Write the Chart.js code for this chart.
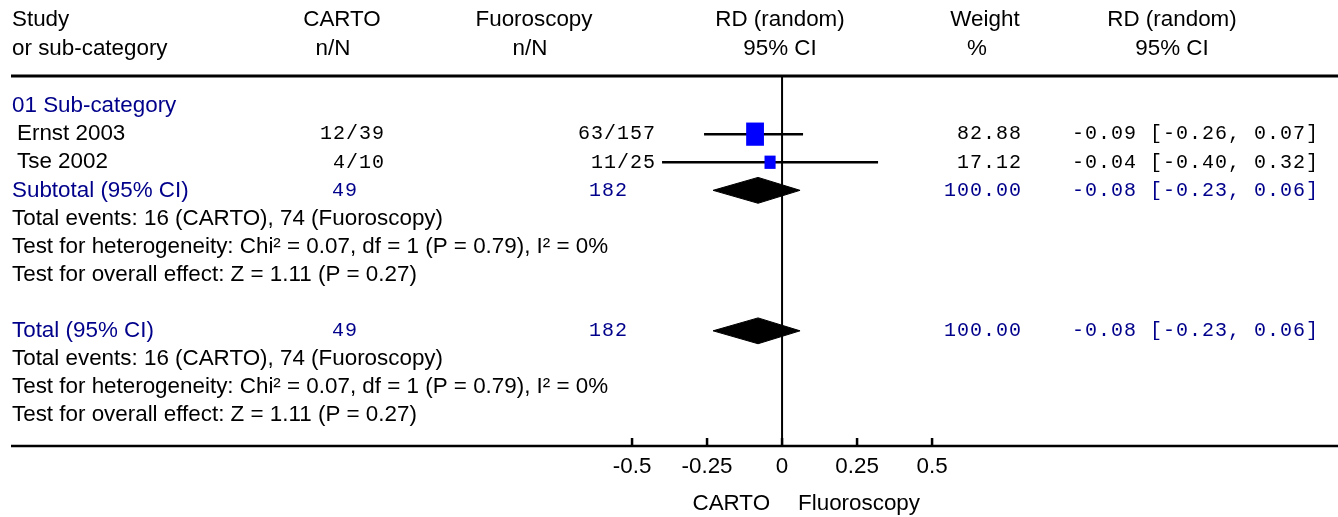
<!DOCTYPE html>
<html>
<head>
<meta charset="utf-8">
<script src="https://cdn.jsdelivr.net/npm/chart.js@4/dist/chart.umd.min.js"></script>
<style>
  html, body { margin: 0; padding: 0; background: #fff; }
  #wrap { width: 1338px; height: 517px; position: relative; }
</style>
</head>
<body>
<div id="wrap"><canvas id="forest"></canvas></div>
<script>
// study data
var studies = ['Ernst 2003', 'Tse 2002'];
var cartoEvents = [12, 4];
var cartoTotal = [39, 10];
var fluoroEvents = [63, 11];
var fluoroTotal = [157, 25];
var rd = [-0.09, -0.04];
var ciLow = [-0.26, -0.40];
var ciHigh = [0.07, 0.32];
var weights = [82.88, 17.12];

// pooled estimate (subtotal and total are the same here)
var pooledRD = -0.08;
var pooledLow = -0.23;
var pooledHigh = 0.06;
var pooledWeight = 100.00;
var sumCarto = 49;
var sumFluoro = 182;

var tickValues = [-0.5, -0.25, 0, 0.25, 0.5];
var tickLabels = ['-0.5', '-0.25', '0', '0.25', '0.5'];

var statLines = [
    'Total events: 16 (CARTO), 74 (Fuoroscopy)',
    'Test for heterogeneity: Chi\u00b2 = 0.07, df = 1 (P = 0.79), I\u00b2 = 0%',
    'Test for overall effect: Z = 1.11 (P = 0.27)'
];

// row numbers on the y scale
var studyRows = [1, 2];
var subtotalRow = 3;
var totalRow = 8;

var sans = '"Liberation Sans", Arial, sans-serif';
var mono = '"Liberation Mono", "Courier New", monospace';
var blue = '#00008b';

function fmt2(v) { return v.toFixed(2); }
function ciText(m, l, h) { return fmt2(m) + ' [' + fmt2(l) + ', ' + fmt2(h) + ']'; }

var datasets = [];
// CI whiskers
studies.forEach(function (s, i) {
    datasets.push({
        data: [{x: ciLow[i], y: studyRows[i]}, {x: ciHigh[i], y: studyRows[i]}],
        borderColor: '#000', borderWidth: 2.5, pointRadius: 0, fill: false
    });
});
// pooled diamonds
[subtotalRow, totalRow].forEach(function (r) {
    datasets.push({
        data: [
            {x: pooledLow, y: r}, {x: pooledRD, y: r - 0.46},
            {x: pooledHigh, y: r}, {x: pooledRD, y: r + 0.46}, {x: pooledLow, y: r}
        ],
        borderColor: '#000', borderWidth: 1, backgroundColor: '#000',
        pointRadius: 0, fill: 'shape', tension: 0
    });
});

var forestPlugin = {
    id: 'forest',
    afterDatasetsDraw: function (chart) {
        var ctx = chart.ctx, xs = chart.scales.x, ys = chart.scales.y;
        // weight squares
        ctx.save();
        ctx.fillStyle = '#0000ff';
        studies.forEach(function (s, i) {
            var k = Math.sqrt(weights[i] / 100);
            var w = 5.5 + 13.5 * k, h = 5 + 20 * k;
            var cx = xs.getPixelForValue(rd[i]), cy = ys.getPixelForValue(studyRows[i]);
            ctx.fillRect(cx - w / 2, cy - h / 2, w, h);
        });
        ctx.restore();
    },
    afterDraw: function (chart) {
        var ctx = chart.ctx, xs = chart.scales.x, ys = chart.scales.y;
        var area = chart.chartArea;
        var zero = xs.getPixelForValue(0);
        ctx.save();
        // rules and zero line
        ctx.strokeStyle = '#000';
        ctx.lineWidth = 3;
        ctx.beginPath(); ctx.moveTo(area.left, area.top); ctx.lineTo(area.right, area.top); ctx.stroke();
        ctx.lineWidth = 2.5;
        ctx.beginPath(); ctx.moveTo(area.left, area.bottom); ctx.lineTo(area.right, area.bottom); ctx.stroke();
        ctx.lineWidth = 2;
        ctx.beginPath(); ctx.moveTo(zero, area.top); ctx.lineTo(zero, area.bottom); ctx.stroke();
        // ticks
        ctx.lineWidth = 2.5;
        tickValues.forEach(function (v, i) {
            var px = xs.getPixelForValue(v);
            ctx.beginPath(); ctx.moveTo(px, area.bottom - 8); ctx.lineTo(px, area.bottom); ctx.stroke();
        });
        ctx.fillStyle = '#000';
        ctx.font = '22.4px ' + sans;
        ctx.textAlign = 'center';
        ctx.textBaseline = 'middle';
        tickValues.forEach(function (v, i) {
            ctx.fillText(tickLabels[i], xs.getPixelForValue(v), area.bottom + 21);
        });
        ctx.textAlign = 'right';
        ctx.fillText('CARTO', zero - 12, 504);
        ctx.textAlign = 'left';
        ctx.fillText('Fluoroscopy', zero + 16, 504);

        // header
        ctx.textAlign = 'left';
        ctx.fillText('Study', 12, 20);
        ctx.fillText('or sub-category', 12, 49);
        ctx.textAlign = 'center';
        ctx.fillText('CARTO', 342, 20);
        ctx.fillText('n/N', 333, 49);
        ctx.fillText('Fuoroscopy', 534, 20);
        ctx.fillText('n/N', 530, 49);
        ctx.fillText('RD (random)', 780, 20);
        ctx.fillText('95% CI', 780, 49);
        ctx.fillText('Weight', 985, 20);
        ctx.fillText('%', 977, 49);
        ctx.fillText('RD (random)', 1172, 20);
        ctx.fillText('95% CI', 1172, 49);

        // left labels
        ctx.textAlign = 'left';
        ctx.fillStyle = blue;
        ctx.fillText('01 Sub-category', 12, ys.getPixelForValue(0));
        ctx.fillText('Subtotal (95% CI)', 12, ys.getPixelForValue(subtotalRow));
        ctx.fillText('Total (95% CI)', 12, ys.getPixelForValue(totalRow));
        ctx.fillStyle = '#000';
        studies.forEach(function (s, i) {
            ctx.fillText(s, 17, ys.getPixelForValue(studyRows[i]));
        });
        [subtotalRow + 1, totalRow + 1].forEach(function (r0) {
            statLines.forEach(function (t, j) {
                ctx.fillText(t, 12, ys.getPixelForValue(r0 + j));
            });
        });

        // monospaced columns
        ctx.font = '20px ' + mono;
        ctx.letterSpacing = '1px';
        ctx.textAlign = 'right';
        studies.forEach(function (s, i) {
            var y = ys.getPixelForValue(studyRows[i]);
            ctx.fillText(cartoEvents[i] + '/' + cartoTotal[i], 385, y);
            ctx.fillText(fluoroEvents[i] + '/' + fluoroTotal[i], 656, y);
            ctx.fillText(fmt2(weights[i]), 1022, y);
            ctx.fillText(ciText(rd[i], ciLow[i], ciHigh[i]), 1319, y);
        });
        ctx.fillStyle = blue;
        [subtotalRow, totalRow].forEach(function (r) {
            var y = ys.getPixelForValue(r);
            ctx.fillText(String(sumCarto), 358, y);
            ctx.fillText(String(sumFluoro), 628, y);
            ctx.fillText(fmt2(pooledWeight), 1022, y);
            ctx.fillText(ciText(pooledRD, pooledLow, pooledHigh), 1319, y);
        });
        ctx.restore();
    }
};

new Chart(document.getElementById('forest'), {
    type: 'line',
    data: { datasets: datasets },
    options: {
        responsive: true,
        maintainAspectRatio: false,
        animation: false,
        layout: { padding: { left: 11, right: 0, top: 76, bottom: 71 } },
        plugins: { legend: { display: false }, tooltip: { enabled: false } },
        scales: {
            x: { type: 'linear', min: -2.57, max: 1.853, display: false },
            y: { type: 'linear', min: -1.07, max: 12.1, reverse: true, display: false }
        }
    },
    plugins: [forestPlugin]
});
</script>
</body>
</html>
